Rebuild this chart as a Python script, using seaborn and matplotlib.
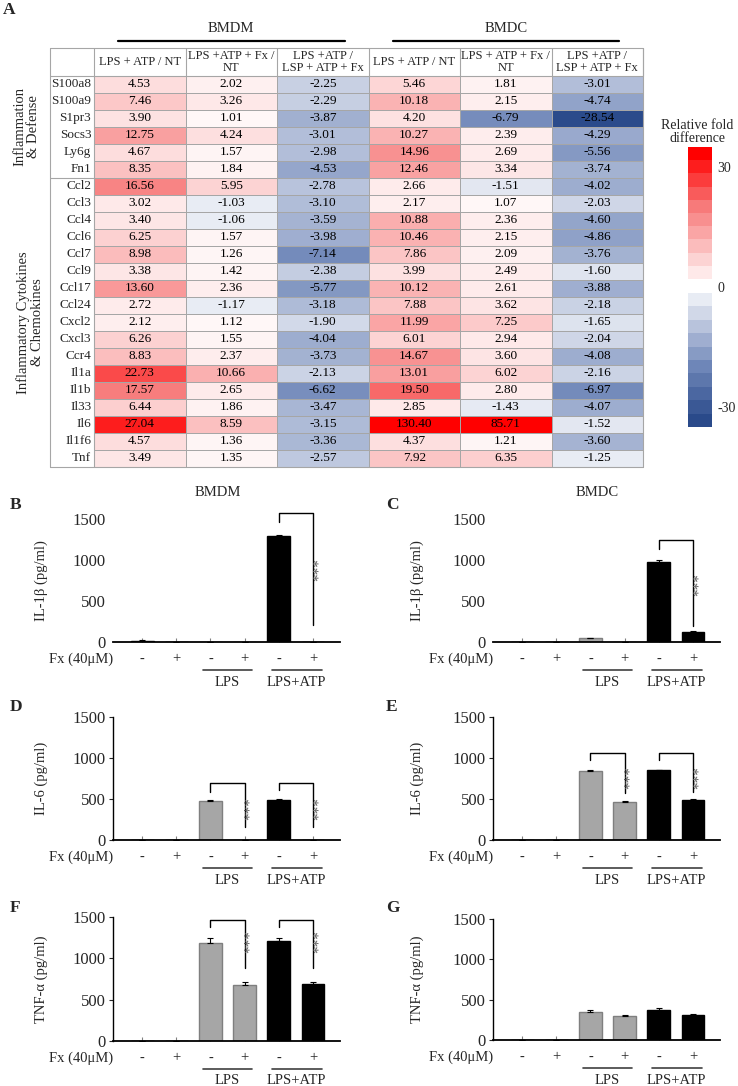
import numpy as np
import pandas as pd
import matplotlib
matplotlib.use('Agg')
import matplotlib.pyplot as plt
import matplotlib.transforms as mtransforms
from matplotlib.colors import LinearSegmentedColormap, ListedColormap, BoundaryNorm
import matplotlib.cm as cm
import seaborn as sns

# ---------------- data ----------------
genes = ['S100a8', 'S100a9', 'S1pr3', 'Socs3', 'Ly6g', 'Fn1',
         'Ccl2', 'Ccl3', 'Ccl4', 'Ccl6', 'Ccl7', 'Ccl9', 'Ccl17', 'Ccl24',
         'Cxcl2', 'Cxcl3', 'Ccr4', 'Il1a', 'Il1b', 'Il33', 'Il6', 'Il1f6', 'Tnf']
col_headers = ['LPS + ATP / NT', 'LPS +ATP + Fx /\nNT', 'LPS +ATP /\nLSP + ATP + Fx',
               'LPS + ATP / NT', 'LPS + ATP + Fx /\nNT', 'LPS +ATP /\nLSP + ATP + Fx']
bmdm_atp_nt = [4.53, 7.46, 3.90, 12.75, 4.67, 8.35, 16.56, 3.02, 3.40, 6.25, 8.98, 3.38,
               13.60, 2.72, 2.12, 6.26, 8.83, 22.73, 17.57, 6.44, 27.04, 4.57, 3.49]
bmdm_fx_nt = [2.02, 3.26, 1.01, 4.24, 1.57, 1.84, 5.95, -1.03, -1.06, 1.57, 1.26, 1.42,
              2.36, -1.17, 1.12, 1.55, 2.37, 10.66, 2.65, 1.86, 8.59, 1.36, 1.35]
bmdm_ratio = [-2.25, -2.29, -3.87, -3.01, -2.98, -4.53, -2.78, -3.10, -3.59, -3.98, -7.14, -2.38,
              -5.77, -3.18, -1.90, -4.04, -3.73, -2.13, -6.62, -3.47, -3.15, -3.36, -2.57]
bmdc_atp_nt = [5.46, 10.18, 4.20, 10.27, 14.96, 12.46, 2.66, 2.17, 10.88, 10.46, 7.86, 3.99,
               10.12, 7.88, 11.99, 6.01, 14.67, 13.01, 19.50, 2.85, 130.40, 4.37, 7.92]
bmdc_fx_nt = [1.81, 2.15, -6.79, 2.39, 2.69, 3.34, -1.51, 1.07, 2.36, 2.15, 2.09, 2.49,
              2.61, 3.62, 7.25, 2.94, 3.60, 6.02, 2.80, -1.43, 85.71, 1.21, 6.35]
bmdc_ratio = [-3.01, -4.74, -28.54, -4.29, -5.56, -3.74, -4.02, -2.03, -4.60, -4.86, -3.76, -1.60,
              -3.88, -2.18, -1.65, -2.04, -4.08, -2.16, -6.97, -4.07, -1.52, -3.60, -1.25]

fx_labels = ['-', '+', '-', '+', '-', '+']
groups = ['LPS', 'LPS+ATP']

il1b_bmdm = [15, 0, 0, 0, 1290, 0]
il1b_bmdm_err = [10, 0, 0, 0, 20, 0]
il1b_bmdc = [0, 0, 45, 0, 972, 128]
il1b_bmdc_err = [0, 0, 3, 0, 22, 8]
il6_bmdm = [0, 0, 478, 0, 492, 0]
il6_bmdm_err = [0, 0, 5, 0, 8, 0]
il6_bmdc = [0, 0, 840, 467, 850, 485]
il6_bmdc_err = [0, 0, 15, 10, 6, 12]
tnf_bmdm = [0, 0, 1185, 677, 1215, 690]
tnf_bmdm_err = [0, 0, 60, 35, 25, 25]
tnf_bmdc = [0, 0, 351, 298, 372, 310]
tnf_bmdc_err = [0, 0, 25, 15, 25, 8]

# ---------------- style ----------------
sns.set_style('white')
plt.rcParams['font.family'] = ['Liberation Serif', 'DejaVu Serif']

W, H = 738, 1086
fig = plt.figure(figsize=(W / 100, H / 100), dpi=100)


def fxp(px):
    return px / W


def fyp(py):
    return 1 - py / H


# ---------------- heatmap (A) ----------------
cmap = LinearSegmentedColormap.from_list(
    'fold', [(0.0, '#2A4A8A'), (0.2, '#6E86B8'), (0.375, '#C5CEE2'),
             (0.5, '#FFFFFF'), (0.8, '#F77A7A'), (1.0, '#FF0000')])


def to_t(v):
    if v >= 0:
        return min(v / 30.0, 1.0)
    return -min(1.0, max(0.1, np.log(abs(v)) / np.log(30.0)))


vals = np.column_stack([bmdm_atp_nt, bmdm_fx_nt, bmdm_ratio,
                        bmdc_atp_nt, bmdc_fx_nt, bmdc_ratio])
T = np.vectorize(to_t)(vals)
annot = np.vectorize(lambda v: f'{v:.2f}')(vals)

grid_c = '#A6A6A6'
ax_hm = fig.add_axes([fxp(94), fyp(467), fxp(643) - fxp(94), (467 - 75.5) / H])
sns.heatmap(T, ax=ax_hm, cmap=cmap, vmin=-1, vmax=1, annot=annot, fmt='',
            cbar=False, linewidths=0.7, linecolor=grid_c,
            annot_kws={'fontsize': 9.5, 'color': 'black'},
            xticklabels=False, yticklabels=genes)
ax_hm.tick_params(axis='y', length=0, pad=2, labelsize=9.5, rotation=0)
ax_hm.tick_params(axis='x', length=0)

nrow = len(genes)
lab_x = -0.48
head_top = -1.62
kw = dict(color=grid_c, lw=0.8, clip_on=False)
ax_hm.plot([lab_x, 6], [head_top, head_top], **kw)
ax_hm.plot([lab_x, 6], [0, 0], **kw)
ax_hm.plot([lab_x, 6], [nrow, nrow], **kw)
ax_hm.plot([lab_x, lab_x], [head_top, nrow], **kw)
ax_hm.plot([lab_x, 0], [6, 6], **kw)
for j in range(7):
    ax_hm.plot([j, j], [head_top, 0], **kw)
ax_hm.plot([6, 6], [head_top, nrow], **kw)
ax_hm.plot([0, 0], [0, nrow], **kw)
for j, h in enumerate(col_headers):
    ax_hm.text(j + 0.5, head_top / 2, h, ha='center', va='center', fontsize=9,
               linespacing=1.0, clip_on=False)

ax_hm.text(1.5, -2.79, 'BMDM', ha='center', va='center', fontsize=10.5)
ax_hm.text(4.5, -2.79, 'BMDC', ha='center', va='center', fontsize=10.5)
ax_hm.plot([0.26, 2.74], [-2.03, -2.03], color='black', lw=1.6, clip_on=False)
ax_hm.plot([3.27, 5.74], [-2.03, -2.03], color='black', lw=1.6, clip_on=False)
ax_hm.text(-0.73, 3, 'Inflammation\n& Defense', rotation=90, ha='center',
           va='center', fontsize=10.5, linespacing=1.05)
ax_hm.text(-0.70, 14.5, 'Inflammatory Cytokines\n& Chemokines', rotation=90,
           ha='center', va='center', fontsize=10.5, linespacing=1.05)

# colorbar
cax = fig.add_axes([fxp(688), fyp(427), (712 - 688) / W, (427 - 147) / H])
bounds = list(np.linspace(-35, -1.5, 11)) + list(np.linspace(2, 35, 11))
cb_cols = [cmap((-(10 - i) / 10 + 1) / 2) for i in range(10)] + ['#FFFFFF'] + \
          [cmap(((i + 1) / 10 + 1) / 2) for i in range(10)]
cb_cmap = ListedColormap(cb_cols)
cb_norm = BoundaryNorm(bounds, cb_cmap.N)
cb = fig.colorbar(cm.ScalarMappable(norm=cb_norm, cmap=cb_cmap), cax=cax,
                  ticks=[-30, 0, 30], spacing='proportional')
cb.outline.set_visible(False)
cb.set_ticklabels(['-30', '0', '30'])
cax.minorticks_off()
cax.tick_params(which='both', length=0, labelsize=10, pad=4, left=False)
fig.text(fxp(697), fyp(132), 'Relative fold\ndifference', ha='center', va='center',
         fontsize=10, linespacing=1.0)

fig.text(fxp(3), fyp(10), 'A', fontsize=12.5, fontweight='bold', va='center', ha='left')

# ---------------- bar panels ----------------
bar_colors = ['black', 'black', '#A6A6A6', '#A6A6A6', 'black', 'black']
edge_colors = ['black', 'black', '#7F7F7F', '#7F7F7F', 'black', 'black']

panels = [
    # letter, values, errors, ylabel, left px, bottom px, height px, spine, brackets
    ('B', il1b_bmdm, il1b_bmdm_err, 'IL-1β (pg/ml)', 113, 642, 123, False,
     [(4, 5, 1570, 1463, 207, 880)]),
    ('C', il1b_bmdc, il1b_bmdc_err, 'IL-1β (pg/ml)', 493, 642, 123, False,
     [(4, 5, 1244, 1134, 190, 695)]),
    ('D', il6_bmdm, il6_bmdm_err, 'IL-6 (pg/ml)', 113, 840, 123, True,
     [(2, 3, 695, 585, 160, 380), (4, 5, 695, 605, 160, 380)]),
    ('E', il6_bmdc, il6_bmdc_err, 'IL-6 (pg/ml)', 493, 840, 123, True,
     [(2, 3, 1060, 975, 573, 756), (4, 5, 1060, 975, 580, 756)]),
    ('F', tnf_bmdm, tnf_bmdm_err, 'TNF-α (pg/ml)', 113, 1041, 124, True,
     [(2, 3, 1464, 1380, 883, 1200), (4, 5, 1464, 1380, 883, 1200)]),
    ('G', tnf_bmdc, tnf_bmdc_err, 'TNF-α (pg/ml)', 493, 1040, 121, True, []),
]

for letter, v, e, ylab, lpx, bpx, hpx, spine, brackets in panels:
    ax = fig.add_axes([fxp(lpx), 1 - bpx / H, 227 / W, hpx / H])
    df = pd.DataFrame({'pos': list(range(6)), 'val': v})
    sns.barplot(data=df, x='pos', y='val', hue='pos', palette=bar_colors,
                width=0.67, legend=False, errorbar=None, ax=ax, linewidth=1)
    for p, ec in zip(ax.patches, edge_colors):
        p.set_edgecolor(ec)
    ax.errorbar(range(6), v, yerr=[np.zeros(6), e], fmt='none', ecolor='black',
                elinewidth=0.8, capsize=2.5, capthick=0.8)
    ax.set_xlim(-0.85, 5.79)
    ax.set_ylim(0, 1500)
    ax.set_yticks([0, 500, 1000, 1500])
    ax.set_xticks(range(6))
    ax.set_xticklabels([''] * 6)
    ax.set_xlabel('')
    ax.set_ylabel(ylab, fontsize=10.5)
    ax.yaxis.set_label_coords(-0.286 if lpx < 300 else -0.305, 0.5)
    for s in ['top', 'right']:
        ax.spines[s].set_visible(False)
    ax.spines['bottom'].set_color('black')
    ax.spines['bottom'].set_linewidth(1.3)
    if spine:
        ax.spines['left'].set_color('black')
        ax.spines['left'].set_linewidth(1.0)
        ax.tick_params(axis='y', length=3, width=0.8, pad=2, labelsize=12, left=True)
    else:
        ax.spines['left'].set_visible(False)
        ax.tick_params(axis='y', length=0, pad=5, labelsize=12)
    ax.tick_params(axis='x', direction='in', length=3, width=0.8, colors='#808080', bottom=True)

    trans = mtransforms.blended_transform_factory(ax.transData, ax.transAxes)
    y1 = -17 / hpx
    y2 = -28 / hpx
    y3 = -40 / hpx
    for i, s in enumerate(fx_labels):
        ax.text(i, y1, s, transform=trans, ha='center', va='center', fontsize=10.5)
    ax.text(0.0, y1, 'Fx (40μM)', transform=ax.transAxes, ha='right', va='center',
            fontsize=10.5)
    for (a, b), g in zip([(1.78, 3.22), (3.80, 5.25)], groups):
        ax.plot([a, b], [y2, y2], transform=trans, color='#404040', lw=1.2, clip_on=False)
        ax.text((a + b) / 2, y3, g, transform=trans, ha='center', va='center',
                fontsize=10.5)

    for x1, x2, top, yl, yr, ys in brackets:
        ax.plot([x1, x1, x2, x2], [yl, top, top, yr], color='black', lw=1.0,
                clip_on=False)
        ax.text(x2 + 0.17, ys, '***', rotation=90, ha='center', va='center',
                fontsize=11, color='#5A5A5A', clip_on=False)

    lx = 10 if lpx < 300 else 386
    ly = {642: 505, 840: 707, 1041: 908, 1040: 908}[bpx]
    fig.text(fxp(lx), fyp(ly), letter, fontsize=12.5, fontweight='bold',
             ha='left', va='center')

fig.text(fxp(218), fyp(492), 'BMDM', ha='center', va='center', fontsize=10.5)
fig.text(fxp(597), fyp(492), 'BMDC', ha='center', va='center', fontsize=10.5)

fig.savefig('out.png', dpi=100, facecolor='white')
